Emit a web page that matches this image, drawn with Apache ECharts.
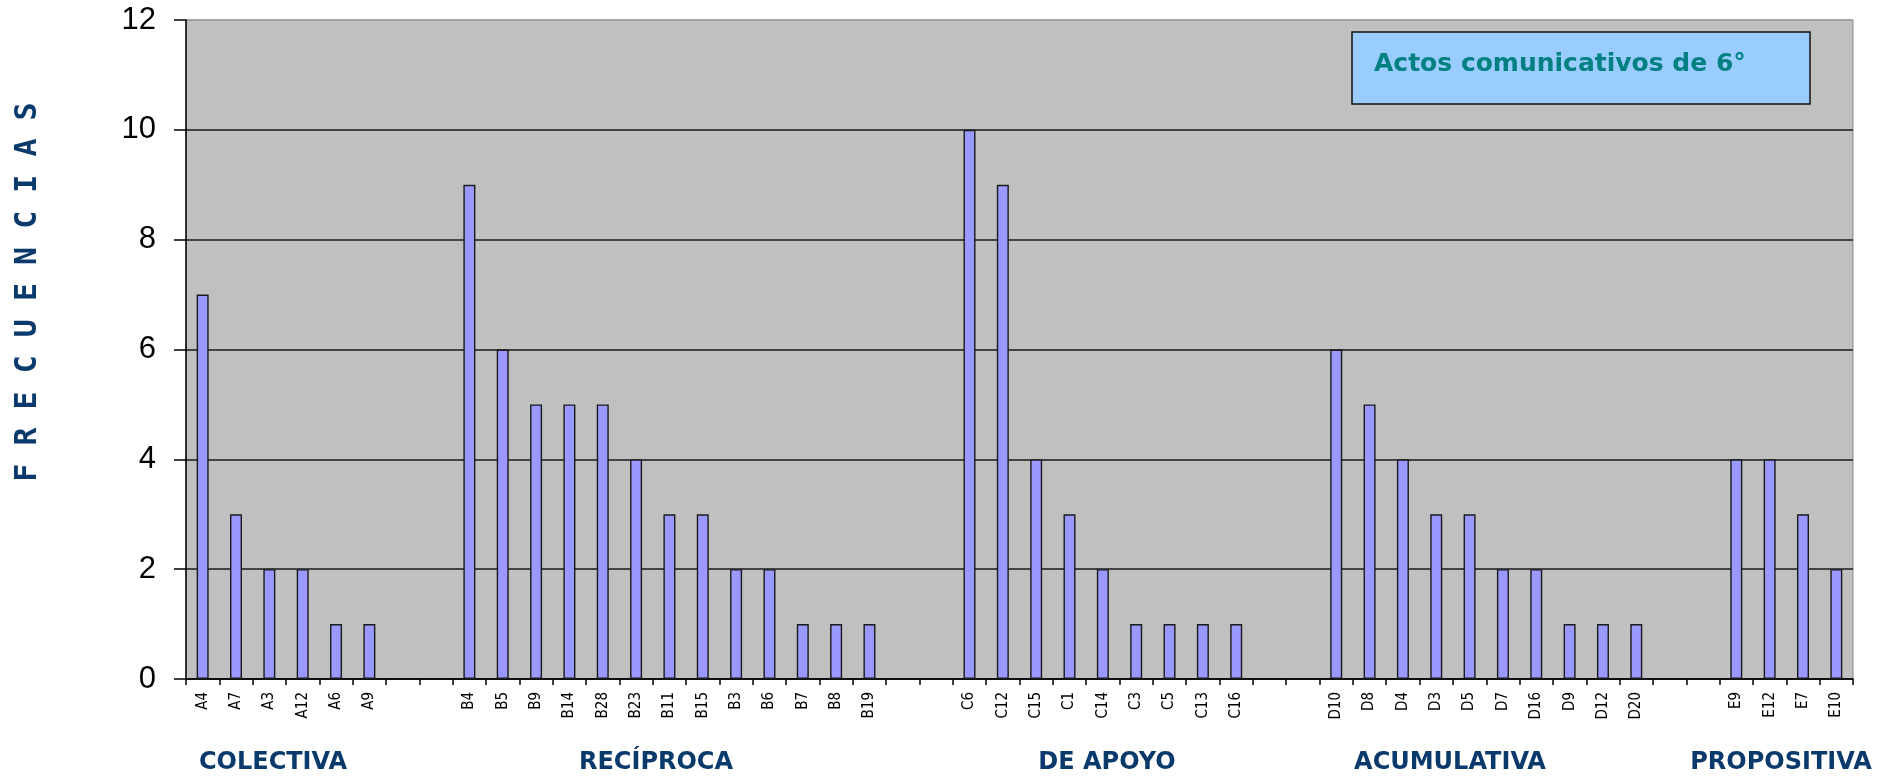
<!DOCTYPE html>
<html>
<head>
<meta charset="utf-8">
<title>Actos comunicativos de 6°</title>
<script src="https://cdn.jsdelivr.net/npm/echarts@6/dist/echarts.min.js"></script>
<style>
  html, body { margin: 0; padding: 0; background: #ffffff; }
  #chart { width: 1895px; height: 778px; }
</style>
</head>
<body>
<div id="chart"></div>
<script>
// Frequencies of each communicative act, grouped by interaction type
const colectivaLabels = ['A4', 'A7', 'A3', 'A12', 'A6', 'A9'];
const colectivaValues = [7, 3, 2, 2, 1, 1];

const reciprocaLabels = ['B4', 'B5', 'B9', 'B14', 'B28', 'B23', 'B11', 'B15', 'B3', 'B6', 'B7', 'B8', 'B19'];
const reciprocaValues = [9, 6, 5, 5, 5, 4, 3, 3, 2, 2, 1, 1, 1];

const apoyoLabels = ['C6', 'C12', 'C15', 'C1', 'C14', 'C3', 'C5', 'C13', 'C16'];
const apoyoValues = [10, 9, 4, 3, 2, 1, 1, 1, 1];

const acumulativaLabels = ['D10', 'D8', 'D4', 'D3', 'D5', 'D7', 'D16', 'D9', 'D12', 'D20'];
const acumulativaValues = [6, 5, 4, 3, 3, 2, 2, 1, 1, 1];

const propositivaLabels = ['E9', 'E12', 'E7', 'E10'];
const propositivaValues = [4, 4, 3, 2];

const groupNames = ['COLECTIVA', 'RECÍPROCA', 'DE APOYO', 'ACUMULATIVA', 'PROPOSITIVA'];
const yTicks = [0, 2, 4, 6, 8, 10, 12];

const chartTitle = 'Actos comunicativos de 6°';
const yAxisTitle = 'F R E C U E N C I A S';

// Horizontal centre of each group caption under the axis (layout only)
const groupCaptionX = [273, 656, 1107, 1450, 1781];
const GAP_SLOTS = 2;

// Join the groups on one category axis, leaving empty slots between them
const groups = [
  [colectivaLabels, colectivaValues],
  [reciprocaLabels, reciprocaValues],
  [apoyoLabels, apoyoValues],
  [acumulativaLabels, acumulativaValues],
  [propositivaLabels, propositivaValues]
];
const categories = [];
const values = [];
groups.forEach(([labels, vals], gi) => {
  if (gi > 0) {
    for (let k = 0; k < GAP_SLOTS; k++) { categories.push(''); values.push(null); }
  }
  labels.forEach((l, i) => { categories.push(l); values.push(vals[i]); });
});

const navy = '#0a3a6c';
const gridLineColors = yTicks.map((t, i) => (i === yTicks.length - 1 ? '#9a9a9a' : '#1a1a1a'));

const chart = echarts.init(document.getElementById('chart'), null, { renderer: 'canvas' });

chart.setOption({
  backgroundColor: '#ffffff',
  animation: false,
  title: {
    text: chartTitle,
    left: 1352,
    top: 32,
    padding: [17, 0, 25, 22],
    backgroundColor: '#99CCFF',
    borderColor: '#111111',
    borderWidth: 1.5,
    textStyle: {
      fontFamily: 'DejaVu Sans',
      fontWeight: 'bold',
      fontSize: 25,
      color: '#008080',
      width: 436,
      lineHeight: 30
    }
  },
  grid: {
    left: 186,
    right: 42,
    top: 20,
    bottom: 99,
    show: true,
    backgroundColor: '#C0C0C0',
    borderColor: '#8c8c8c',
    borderWidth: 1,
    containLabel: false
  },
  xAxis: {
    type: 'category',
    data: categories,
    boundaryGap: true,
    axisLine: { show: true, lineStyle: { color: '#000000', width: 1.5 } },
    axisTick: { show: true, interval: 0, length: 6, inside: false, lineStyle: { color: '#000000', width: 1.5 } },
    axisLabel: {
      interval: 0,
      rotate: 90,
      margin: 13,
      fontFamily: "'Liberation Sans Narrow', 'DejaVu Sans Condensed', 'Liberation Sans', sans-serif",
      fontSize: 15,
      color: '#000000'
    },
    splitLine: { show: false }
  },
  yAxis: {
    type: 'value',
    min: yTicks[0],
    max: yTicks[yTicks.length - 1],
    interval: yTicks[1] - yTicks[0],
    axisLine: { show: true, lineStyle: { color: '#000000', width: 1.5 } },
    axisTick: { show: true, length: 12, inside: false, lineStyle: { color: '#000000', width: 1.5 } },
    axisLabel: {
      margin: 30,
      fontFamily: "'Liberation Sans', Arial, sans-serif",
      fontSize: 31,
      color: '#000000'
    },
    splitLine: { show: true, lineStyle: { color: gridLineColors, width: 1.6 } }
  },
  series: [{
    type: 'bar',
    data: values,
    barWidth: 12,
    itemStyle: {
      color: '#9999FF',
      borderColor: '#1a1a1a',
      borderWidth: 1.4
    },
    emphasis: { disabled: true }
  }],
  graphic: [
    {
      type: 'text',
      x: 28,
      y: 292,
      rotation: Math.PI / 2,
      style: {
        text: yAxisTitle,
        fontFamily: 'DejaVu Sans Mono',
        fontWeight: 'bold',
        fontSize: 30,
        fill: navy,
        align: 'center',
        verticalAlign: 'middle'
      }
    }
  ].concat(groupNames.map((name, i) => ({
    type: 'text',
    x: groupCaptionX[i],
    y: 763,
    style: {
      text: name,
      fontFamily: 'DejaVu Sans',
      fontWeight: 'bold',
      fontSize: 24,
      fill: navy,
      align: 'center',
      verticalAlign: 'middle'
    }
  })))
});
</script>
</body>
</html>
